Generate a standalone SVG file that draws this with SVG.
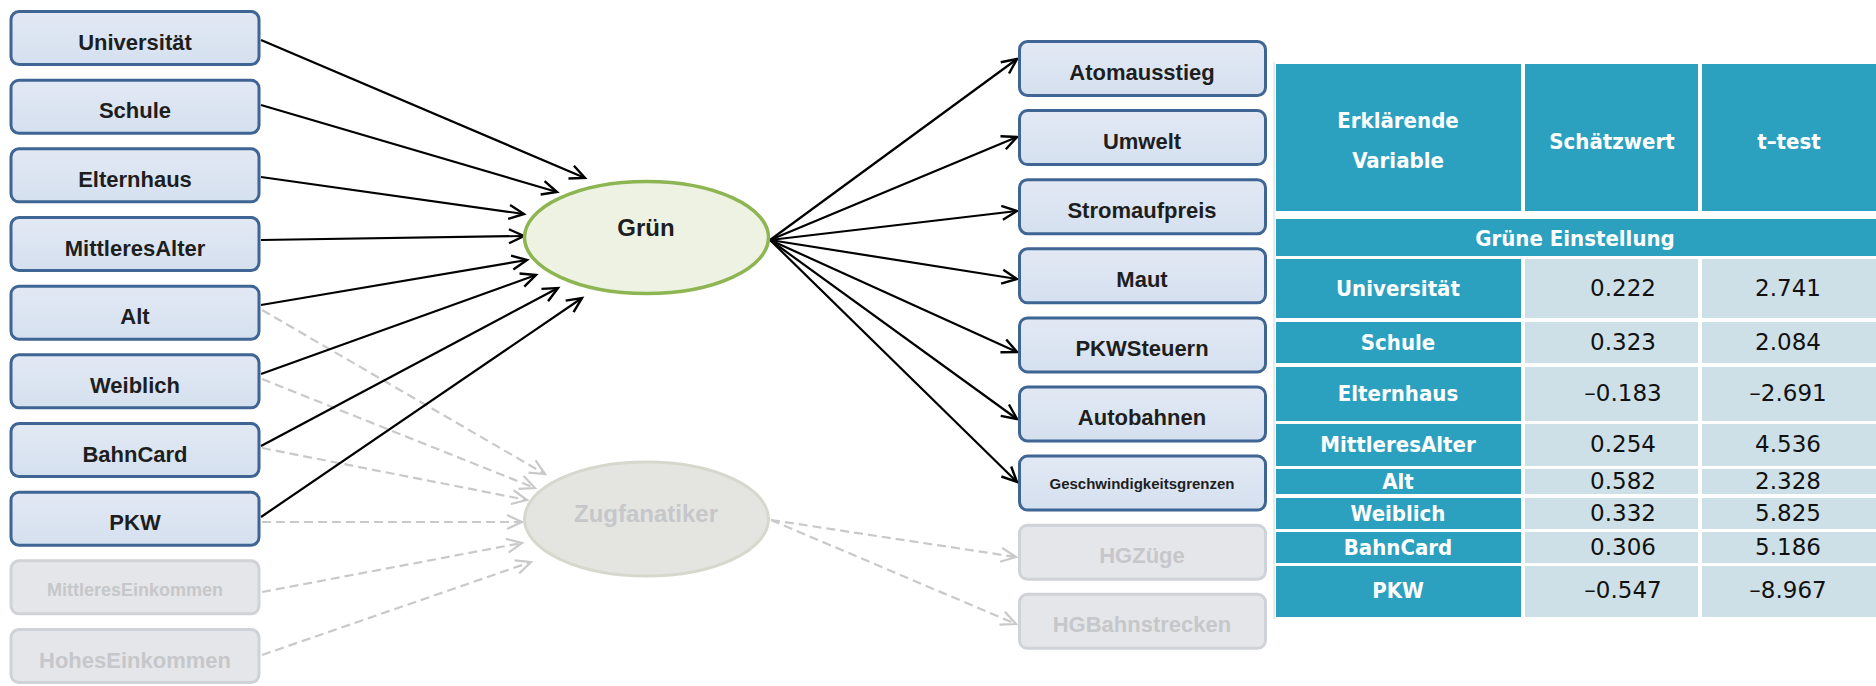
<svg xmlns="http://www.w3.org/2000/svg" width="1876" height="686" viewBox="0 0 1876 686">
<defs>
<style>
.box{fill:url(#boxFill);stroke:#3f6595;stroke-width:3}
.gbox{fill:#e5e6e9;stroke:#cfd2d7;stroke-width:3}
.lbl{font-family:"Liberation Sans",Arial,sans-serif;font-weight:bold;font-size:22px;fill:#1e1e1e;text-anchor:middle}
.glbl{fill:#c6c7ca}
.solid{stroke:#000;stroke-width:2.2;fill:none;marker-end:url(#ah)}
.dash{stroke:#c9c9c9;stroke-width:2.2;fill:none;stroke-dasharray:9 5;marker-end:url(#ahg)}
.teal{fill:#2ca1bf}
.light{fill:#cee0e7}
.th{font-family:"DejaVu Sans","Liberation Sans",sans-serif;font-stretch:condensed;font-weight:bold;font-size:22px;fill:#fff;text-anchor:middle}
.num{font-family:"DejaVu Sans","Liberation Sans",sans-serif;font-size:23px;fill:#111;text-anchor:middle}
</style>
<linearGradient id="boxFill" x1="0" y1="0" x2="0" y2="1">
<stop offset="0" stop-color="#e2e9f4"/>
<stop offset="1" stop-color="#d5e0ef"/>
</linearGradient>
<marker id="ah" markerUnits="userSpaceOnUse" markerWidth="20" markerHeight="18" refX="17" refY="9" orient="auto">
<path d="M2,2 L17,9 L2,16" fill="none" stroke="#000" stroke-width="2.4"/>
</marker>
<marker id="ahg" markerUnits="userSpaceOnUse" markerWidth="20" markerHeight="18" refX="17" refY="9" orient="auto">
<path d="M2,2 L17,9 L2,16" fill="none" stroke="#c9c9c9" stroke-width="2.2"/>
</marker>
</defs>
<rect x="0" y="0" width="1876" height="686" fill="#fff"/>

<g id="connectors">
<line class="dash" x1="262" y1="310" x2="545" y2="474"/>
<line class="dash" x1="262" y1="379" x2="535" y2="488"/>
<line class="dash" x1="262" y1="448" x2="527" y2="500"/>
<line class="dash" x1="262" y1="522" x2="522" y2="522"/>
<line class="dash" x1="262" y1="592" x2="522" y2="543"/>
<line class="dash" x1="262" y1="655" x2="531" y2="562"/>
<line class="dash" x1="771" y1="520" x2="1016" y2="557"/>
<line class="dash" x1="771" y1="520" x2="1016" y2="624"/>
<line class="solid" x1="261" y1="40" x2="585" y2="178"/>
<line class="solid" x1="261" y1="105" x2="557" y2="192"/>
<line class="solid" x1="261" y1="177" x2="524" y2="214"/>
<line class="solid" x1="261" y1="240" x2="524" y2="236"/>
<line class="solid" x1="261" y1="305" x2="527" y2="260"/>
<line class="solid" x1="261" y1="374" x2="536" y2="275"/>
<line class="solid" x1="261" y1="446" x2="558" y2="288"/>
<line class="solid" x1="261" y1="517" x2="582" y2="298"/>
<line class="solid" x1="770" y1="240" x2="1017" y2="59"/>
<line class="solid" x1="770" y1="240" x2="1017" y2="137"/>
<line class="solid" x1="770" y1="240" x2="1017" y2="211"/>
<line class="solid" x1="770" y1="240" x2="1017" y2="279"/>
<line class="solid" x1="770" y1="240" x2="1017" y2="352"/>
<line class="solid" x1="770" y1="240" x2="1017" y2="419"/>
<line class="solid" x1="770" y1="240" x2="1017" y2="482"/>
</g>

<g id="node-universitaet"><rect class="box" x="11" y="11.5" width="248" height="53" rx="8"/><text class="lbl" x="135" y="49.5">Universität</text></g>
<g id="node-schule"><rect class="box" x="11" y="80.2" width="248" height="53" rx="8"/><text class="lbl" x="135" y="118.2">Schule</text></g>
<g id="node-elternhaus"><rect class="box" x="11" y="148.8" width="248" height="53" rx="8"/><text class="lbl" x="135" y="186.8">Elternhaus</text></g>
<g id="node-mittleresalter"><rect class="box" x="11" y="217.5" width="248" height="53" rx="8"/><text class="lbl" x="135" y="255.5">MittleresAlter</text></g>
<g id="node-alt"><rect class="box" x="11" y="286.2" width="248" height="53" rx="8"/><text class="lbl" x="135" y="324.2">Alt</text></g>
<g id="node-weiblich"><rect class="box" x="11" y="354.8" width="248" height="53" rx="8"/><text class="lbl" x="135" y="392.8">Weiblich</text></g>
<g id="node-bahncard"><rect class="box" x="11" y="423.5" width="248" height="53" rx="8"/><text class="lbl" x="135" y="461.5">BahnCard</text></g>
<g id="node-pkw"><rect class="box" x="11" y="492.2" width="248" height="53" rx="8"/><text class="lbl" x="135" y="530.2">PKW</text></g>
<g id="node-mittleres-einkommen"><rect class="gbox" x="11" y="560.8" width="248" height="53" rx="8"/><text class="lbl glbl" x="135" y="596" style="font-size:18px">MittleresEinkommen</text></g>
<g id="node-hohes-einkommen"><rect class="gbox" x="11" y="629.5" width="248" height="53" rx="8"/><text class="lbl glbl" x="135" y="667.5">HohesEinkommen</text></g>

<g id="node-gruen"><ellipse cx="646.5" cy="237.5" rx="122" ry="56" fill="#eef2e3" stroke="#8db552" stroke-width="3.5"/><text class="lbl" x="646" y="236" style="font-size:24px">Grün</text></g>
<g id="node-zugfanatiker"><ellipse cx="646.5" cy="519" rx="122" ry="57" fill="#e4e4e1" stroke="#d7d8cd" stroke-width="3"/><text class="lbl glbl" x="646" y="522" style="font-size:24px">Zugfanatiker</text></g>

<g id="node-atomausstieg"><rect class="box" x="1019.5" y="41.5" width="246" height="54" rx="8"/><text class="lbl" x="1142" y="79.5">Atomausstieg</text></g>
<g id="node-umwelt"><rect class="box" x="1019.5" y="110.6" width="246" height="54" rx="8"/><text class="lbl" x="1142" y="148.6">Umwelt</text></g>
<g id="node-stromaufpreis"><rect class="box" x="1019.5" y="179.7" width="246" height="54" rx="8"/><text class="lbl" x="1142" y="217.7">Stromaufpreis</text></g>
<g id="node-maut"><rect class="box" x="1019.5" y="248.8" width="246" height="54" rx="8"/><text class="lbl" x="1142" y="286.8">Maut</text></g>
<g id="node-pkwsteuern"><rect class="box" x="1019.5" y="317.9" width="246" height="54" rx="8"/><text class="lbl" x="1142" y="355.9">PKWSteuern</text></g>
<g id="node-autobahnen"><rect class="box" x="1019.5" y="387" width="246" height="54" rx="8"/><text class="lbl" x="1142" y="425">Autobahnen</text></g>
<g id="node-geschwindigkeitsgrenzen"><rect class="box" x="1019.5" y="456.1" width="246" height="54" rx="8"/><text class="lbl" x="1142" y="488.5" style="font-size:15px">Geschwindigkeitsgrenzen</text></g>
<g id="node-hgzuege"><rect class="gbox" x="1019.5" y="525.2" width="246" height="54" rx="8"/><text class="lbl glbl" x="1142" y="563.2">HGZüge</text></g>
<g id="node-hgbahnstrecken"><rect class="gbox" x="1019.5" y="594.3" width="246" height="54" rx="8"/><text class="lbl glbl" x="1142" y="632.3">HGBahnstrecken</text></g>

<g id="table">
<line x1="1274" y1="62" x2="1274" y2="619" stroke="#dce6ea" stroke-width="1.5"/>
<rect class="teal" x="1276" y="64" width="245" height="147"/>
<rect class="teal" x="1525" y="64" width="173" height="147"/>
<rect class="teal" x="1702" y="64" width="174" height="147"/>
<rect class="teal" x="1276" y="219" width="600" height="37"/>
<rect class="teal" x="1276" y="259" width="245" height="59"/><rect class="light" x="1525" y="259" width="173" height="59"/><rect class="light" x="1702" y="259" width="174" height="59"/>
<rect class="teal" x="1276" y="322" width="245" height="41"/><rect class="light" x="1525" y="322" width="173" height="41"/><rect class="light" x="1702" y="322" width="174" height="41"/>
<rect class="teal" x="1276" y="367" width="245" height="54"/><rect class="light" x="1525" y="367" width="173" height="54"/><rect class="light" x="1702" y="367" width="174" height="54"/>
<rect class="teal" x="1276" y="424" width="245" height="42"/><rect class="light" x="1525" y="424" width="173" height="42"/><rect class="light" x="1702" y="424" width="174" height="42"/>
<rect class="teal" x="1276" y="469" width="245" height="25"/><rect class="light" x="1525" y="469" width="173" height="25"/><rect class="light" x="1702" y="469" width="174" height="25"/>
<rect class="teal" x="1276" y="498" width="245" height="31"/><rect class="light" x="1525" y="498" width="173" height="31"/><rect class="light" x="1702" y="498" width="174" height="31"/>
<rect class="teal" x="1276" y="532" width="245" height="31"/><rect class="light" x="1525" y="532" width="173" height="31"/><rect class="light" x="1702" y="532" width="174" height="31"/>
<rect class="teal" x="1276" y="566" width="245" height="51"/><rect class="light" x="1525" y="566" width="173" height="51"/><rect class="light" x="1702" y="566" width="174" height="51"/>

<text class="th" x="1398" y="128">Erklärende</text>
<text class="th" x="1398" y="168">Variable</text>
<text class="th" x="1612" y="149">Schätzwert</text>
<text class="th" x="1789" y="149">t–test</text>
<text class="th" x="1575" y="246">Grüne Einstellung</text>

<text class="th" x="1398" y="296">Universität</text><text class="num" x="1623" y="296">0.222</text><text class="num" x="1788" y="296">2.741</text>
<text class="th" x="1398" y="350">Schule</text><text class="num" x="1623" y="350">0.323</text><text class="num" x="1788" y="350">2.084</text>
<text class="th" x="1398" y="401">Elternhaus</text><text class="num" x="1623" y="401">–0.183</text><text class="num" x="1788" y="401">–2.691</text>
<text class="th" x="1398" y="452">MittleresAlter</text><text class="num" x="1623" y="452">0.254</text><text class="num" x="1788" y="452">4.536</text>
<text class="th" x="1398" y="489">Alt</text><text class="num" x="1623" y="489">0.582</text><text class="num" x="1788" y="489">2.328</text>
<text class="th" x="1398" y="521">Weiblich</text><text class="num" x="1623" y="521">0.332</text><text class="num" x="1788" y="521">5.825</text>
<text class="th" x="1398" y="555">BahnCard</text><text class="num" x="1623" y="555">0.306</text><text class="num" x="1788" y="555">5.186</text>
<text class="th" x="1398" y="598">PKW</text><text class="num" x="1623" y="598">–0.547</text><text class="num" x="1788" y="598">–8.967</text>
</g>
</svg>
